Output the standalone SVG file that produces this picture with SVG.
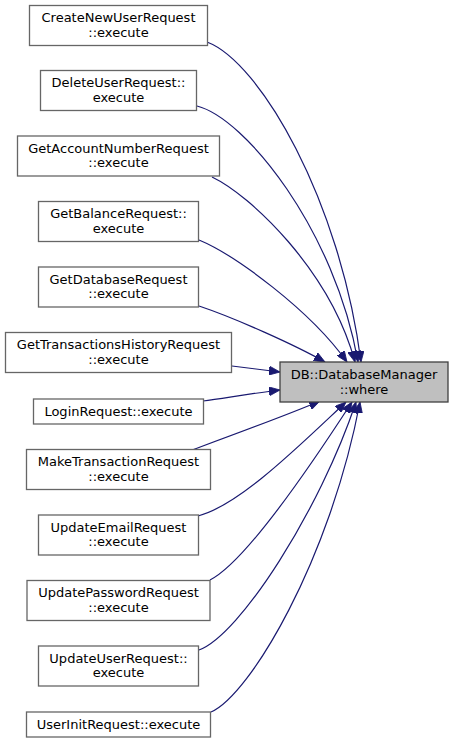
<svg xmlns="http://www.w3.org/2000/svg" width="453" height="743" viewBox="0 0 453 743">
<defs>
<marker id="ah" markerUnits="userSpaceOnUse" markerWidth="12" markerHeight="9" refX="11" refY="4.5" orient="auto">
<path d="M0,0 L11,4.5 L0,9 Z" fill="#191970" stroke="#191970" stroke-width="0.8"/>
</marker>
</defs>
<style>
.n rect{fill:#ffffff;stroke:#666666;stroke-width:1.3}
.t rect{fill:#bfbfbf;stroke:#404040;stroke-width:1.3}
text{font-family:"DejaVu Sans",sans-serif;font-size:13px;fill:#000000;text-anchor:middle}
.e path{fill:none;stroke:#191970;stroke-width:1.2;marker-end:url(#ah)}
</style>
<rect width="453" height="743" fill="#ffffff"/>
<g id="edges" class="e">
<path d="M207,42 C260,62 340,200 361,362"/>
<path d="M197,106 C245,118 335,230 358,362"/>
<path d="M212,177 C250,195 330,270 355,362"/>
<path d="M199,240 C235,255 310,310 347,362"/>
<path d="M199,306 C235,318 295,345 325,362"/>
<path d="M232,366 L280,372"/>
<path d="M203,401 C225,398 255,393 280,390"/>
<path d="M192,450 C230,436 290,414 320,401"/>
<path d="M198,516 C240,505 300,445 346,402"/>
<path d="M210,580 C240,565 295,490 352,402"/>
<path d="M199,650 C240,635 320,510 356,402"/>
<path d="M211,712 C250,695 330,560 360,402"/>
</g>
<g id="target" class="t"><rect x="280" y="362" width="168" height="40"/><text x="364" y="379">DB::DatabaseManager</text><text x="364" y="393.5">::where</text></g>
<g id="n1" class="n"><rect x="29.5" y="5.5" width="178" height="40"/><text x="118.5" y="22">CreateNewUserRequest</text><text x="118.5" y="36.5">::execute</text></g>
<g id="n2" class="n"><rect x="40.5" y="70.5" width="156" height="40"/><text x="118.5" y="87">DeleteUserRequest::</text><text x="118.5" y="101.5">execute</text></g>
<g id="n3" class="n"><rect x="17.5" y="136" width="202" height="40"/><text x="118.5" y="152.5">GetAccountNumberRequest</text><text x="118.5" y="167">::execute</text></g>
<g id="n4" class="n"><rect x="38.5" y="201.5" width="160" height="40"/><text x="118.5" y="218">GetBalanceRequest::</text><text x="118.5" y="232.5">execute</text></g>
<g id="n5" class="n"><rect x="38.5" y="267" width="160" height="40"/><text x="118.5" y="283.5">GetDatabaseRequest</text><text x="118.5" y="298">::execute</text></g>
<g id="n6" class="n"><rect x="5.5" y="332.5" width="226" height="40"/><text x="118.5" y="349">GetTransactionsHistoryRequest</text><text x="118.5" y="363.5">::execute</text></g>
<g id="n7" class="n"><rect x="33.5" y="399" width="170" height="25"/><text x="118.5" y="416">LoginRequest::execute</text></g>
<g id="n8" class="n"><rect x="26.5" y="449.5" width="184" height="40"/><text x="118.5" y="466">MakeTransactionRequest</text><text x="118.5" y="480.5">::execute</text></g>
<g id="n9" class="n"><rect x="38.5" y="515" width="160" height="40"/><text x="118.5" y="531.5">UpdateEmailRequest</text><text x="118.5" y="546">::execute</text></g>
<g id="n10" class="n"><rect x="27" y="580.5" width="183" height="40"/><text x="118.5" y="597">UpdatePasswordRequest</text><text x="118.5" y="611.5">::execute</text></g>
<g id="n11" class="n"><rect x="38.5" y="646" width="160" height="40"/><text x="118.5" y="662.5">UpdateUserRequest::</text><text x="118.5" y="677">execute</text></g>
<g id="n12" class="n"><rect x="26.5" y="712" width="184" height="25"/><text x="118.5" y="729">UserInitRequest::execute</text></g>
</svg>
